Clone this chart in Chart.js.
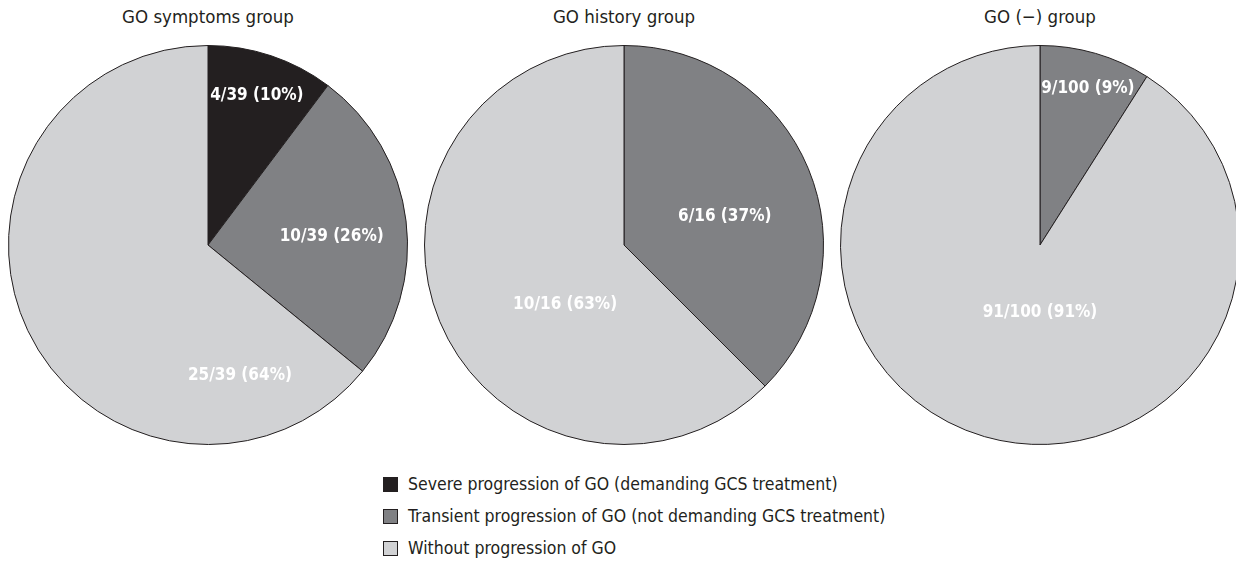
<!DOCTYPE html>
<html>
<head>
<meta charset="utf-8">
<script src="https://cdn.jsdelivr.net/npm/chart.js@4"></script>
<style>
  body { margin: 0; background: #fff; width: 1236px; height: 571px; overflow: hidden; position: relative;
         font-family: "Liberation Sans Narrow", "DejaVu Sans Condensed", sans-serif; color: #231f20; }
  .title { position: absolute; top: 5px; width: 416px; text-align: center; font-size: 18.5px; line-height: 24px; }
  .box { position: absolute; top: 45px; width: 416px; height: 400px; }
  #legend { position: absolute; left: 383px; top: 468px; font-size: 17.5px; }
  .row { height: 32px; display: flex; align-items: center; }
  .sw { width: 15px; height: 15px; border: 1px solid #231f20; margin-right: 10px; box-sizing: border-box; flex: none; }
</style>
</head>
<body>
<div id="charts"></div>
<div id="legend"></div>
<script>
const groups = ['GO symptoms group', 'GO history group', 'GO (\u2212) group'];
const categories = [
  'Severe progression of GO (demanding GCS treatment)',
  'Transient progression of GO (not demanding GCS treatment)',
  'Without progression of GO'
];
const severe = [4, 0, 0];
const transient = [10, 6, 9];
const without = [25, 10, 91];
const totals = [39, 16, 100];
const percents = [[10, 26, 64], [0, 37, 63], [0, 9, 91]];

const colors = ['#231f20', '#808184', '#d1d2d4'];

// where to put each slice label, as offset from centre in units of the radius
const labelPos = [
  [[0.245, -0.75], [0.62, -0.04], [0.16, 0.655]],
  [null, [0.505, -0.14], [-0.295, 0.30]],
  [null, [0.24, -0.785], [0.0, 0.34]]
];

const sliceLabels = {
  id: 'sliceLabels',
  afterDatasetsDraw(chart) {
    const g = chart.options.plugins.sliceLabels.group;
    const meta = chart.getDatasetMeta(0);
    const ctx = chart.ctx;
    ctx.save();
    ctx.font = 'bold 17px "Liberation Sans Narrow", "DejaVu Sans Condensed", sans-serif';
    ctx.fillStyle = '#fff';
    ctx.textAlign = 'center';
    ctx.textBaseline = 'middle';
    meta.data.forEach((arc, i) => {
      const v = chart.data.datasets[0].data[i];
      const p = labelPos[g][i];
      if (!v || !p) return;
      const r = arc.outerRadius;
      const txt = v + '/' + totals[g] + ' (' + percents[g][i] + '%)';
      ctx.fillText(txt, arc.x + p[0] * r, arc.y + p[1] * r);
    });
    ctx.restore();
  }
};

const holder = document.getElementById('charts');
groups.forEach((name, g) => {
  const t = document.createElement('div');
  t.className = 'title';
  t.style.left = (g * 416) + 'px';
  t.textContent = name;
  holder.appendChild(t);
  const box = document.createElement('div');
  box.className = 'box';
  box.style.left = (g * 416) + 'px';
  const cv = document.createElement('canvas');
  box.appendChild(cv);
  holder.appendChild(box);

  new Chart(cv, {
    type: 'pie',
    data: {
      labels: categories,
      datasets: [{
        data: [severe[g], transient[g], without[g]],
        backgroundColor: colors,
        borderColor: '#231f20',
        borderWidth: 1
      }]
    },
    options: {
      responsive: true,
      maintainAspectRatio: false,
      animation: false,
      layout: { padding: 0 },
      plugins: {
        legend: { display: false },
        tooltip: { enabled: false },
        sliceLabels: { group: g }
      }
    },
    plugins: [sliceLabels]
  });
});

const legend = document.getElementById('legend');
categories.forEach((c, i) => {
  const row = document.createElement('div');
  row.className = 'row';
  row.innerHTML = '<span class="sw" style="background:' + colors[i] + '"></span><span>' + c + '</span>';
  legend.appendChild(row);
});
</script>
</body>
</html>
